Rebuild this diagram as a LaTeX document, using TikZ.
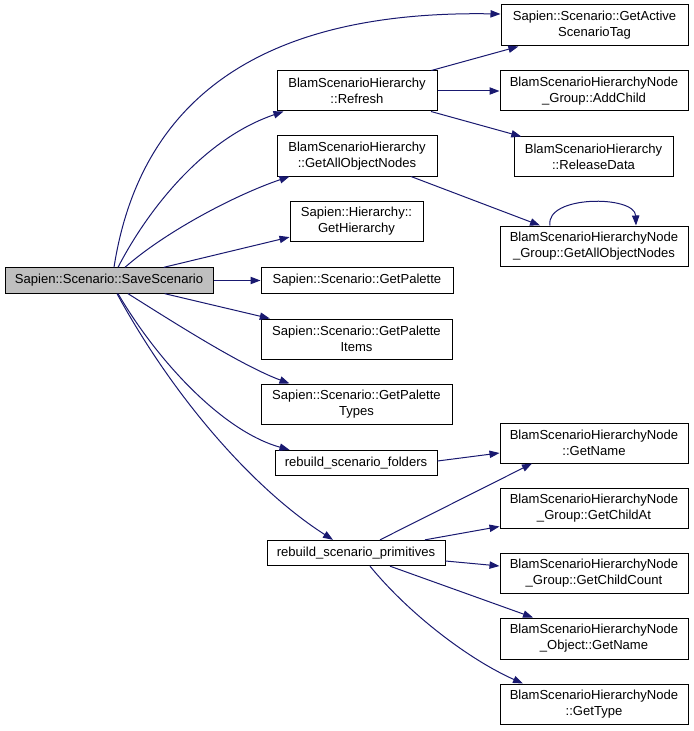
\documentclass[tikz,border=0pt]{standalone}
\usepackage{fontspec}
\setmainfont{Liberation Sans}
\definecolor{linkcol}{RGB}{25,25,112}
\definecolor{mainfill}{RGB}{191,191,191}
\usetikzlibrary{arrows.meta, calc}

\begin{document}
\begin{tikzpicture}[x=0.75pt, y=-0.75pt,
        box/.style={draw=black, line width=0.75pt, fill=white, align=center, inner sep=0pt, minimum height=30pt, font=\fontsize{9.8}{12}\selectfont},
        onebox/.style={box, minimum height=19pt},
        arr/.style={-{Triangle[length=7.5pt,width=5.5pt]}, line width=0.75pt, linkcol}
    ]
        \useasboundingbox (0,0) rectangle (693,731);
        % caller
        \node[onebox, fill=mainfill, minimum width=156pt] (m) at (109,280.5) {Sapien::Scenario::SaveScenario};
        % second column
        \node[box, minimum width=120pt] (refresh) at (357,91) {BlamScenarioHierarchy\\::Refresh};
        \node[box, minimum width=120pt] (getall) at (357,156) {BlamScenarioHierarchy\\::GetAllObjectNodes};
        \node[box, minimum width=99.75pt] (hier) at (356.5,221) {Sapien::Hierarchy::\\GetHierarchy};
        \node[onebox, minimum width=144pt] (palette) at (357,280.5) {Sapien::Scenario::GetPalette};
        \node[box, minimum width=143.25pt] (items) at (356.5,339) {Sapien::Scenario::GetPalette\\Items};
        \node[box, minimum width=143.25pt] (types) at (356.5,404) {Sapien::Scenario::GetPalette\\Types};
        \node[onebox, minimum width=121.5pt] (folders) at (356,463) {rebuild\_scenario\_folders};
        \node[onebox, minimum width=133.5pt] (prims) at (356,553) {rebuild\_scenario\_primitives};
        % third column
        \node[box, minimum width=140.25pt, minimum height=30.75pt] (tag) at (594.5,25.5) {Sapien::Scenario::GetActive\\ScenarioTag};
        \node[box, minimum width=141pt] (addchild) at (594,91) {BlamScenarioHierarchyNode\\\_Group::AddChild};
        \node[box, minimum width=119.25pt, minimum height=29.25pt] (release) at (593.5,156.5) {BlamScenarioHierarchy\\::ReleaseData};
        \node[box, minimum width=141pt] (gall) at (594,246) {BlamScenarioHierarchyNode\\\_Group::GetAllObjectNodes};
        \node[box, minimum width=141pt] (gname) at (594,443) {BlamScenarioHierarchyNode\\::GetName};
        \node[box, minimum width=141pt] (childat) at (594,508) {BlamScenarioHierarchyNode\\\_Group::GetChildAt};
        \node[box, minimum width=141pt] (childcount) at (594,573) {BlamScenarioHierarchyNode\\\_Group::GetChildCount};
        \node[box, minimum width=141pt, minimum height=30.75pt] (objname) at (594,638.5) {BlamScenarioHierarchyNode\\\_Object::GetName};
        \node[box, minimum width=141pt] (gtype) at (594,704) {BlamScenarioHierarchyNode\\::GetType};
        % calls from SaveScenario
        \draw[arr] ($(m.north)+(5,0)$) .. controls (140,100) and (260,10) .. ($(tag.west)+(0,-11.5)$);
        \draw[arr] ($(m.north)+(9,0)$) .. controls (145,215) and (200,140) .. ($(refresh.south west)+(7,0)$);
        \draw[arr] ($(m.north)+(16,0)$) .. controls (165,232) and (235,195) .. ($(getall.south west)+(13,0)$);
        \draw[arr] (m) -- (hier);
        \draw[arr] (m) -- (palette);
        \draw[arr] (m) -- (items);
        \draw[arr] ($(m.south)+(19,0)$) .. controls (170,320) and (240,365) .. ($(types.north west)+(29,0)$);
        \draw[arr] ($(m.south)+(9,0)$) .. controls (160,365) and (225,432) .. ($(folders.north west)+(15,0)$);
        \draw[arr] ($(m.south)+(8,0)$) .. controls (175,400) and (255,490) .. ($(prims.north)+(-23,0)$);
        % second level
        \draw[arr] (refresh) -- (tag);
        \draw[arr] (refresh) -- (addchild);
        \draw[arr] (refresh) -- (release);
        \draw[arr] (getall) -- (gall);
        \draw[arr] ($(gall.north)+(-44,0)$) .. controls (545,195) and (635,195) .. ($(gall.north)+(42,0)$);
        \draw[arr] ($(folders.east)+(0,-2)$) -- ($(gname.west)+(0,10)$);
        \draw[arr] ($(prims.north)+(24,0)$) -- ($(gname.south)+(-62,0)$);
        \draw[arr] ($(prims.north)+(69,0)$) -- ($(childat.south west)+(0,-2)$);
        \draw[arr] ($(prims.east)+(0,8)$) -- ($(childcount.west)+(0,-7)$);
        \draw[arr] ($(prims.south)+(34,0)$) -- ($(objname.north)+(-61,0)$);
        \draw[arr] ($(prims.south)+(14,0)$) .. controls (410,615) and (470,660) .. ($(gtype.north)+(-71,0)$);
    \end{tikzpicture}
\end{document}
